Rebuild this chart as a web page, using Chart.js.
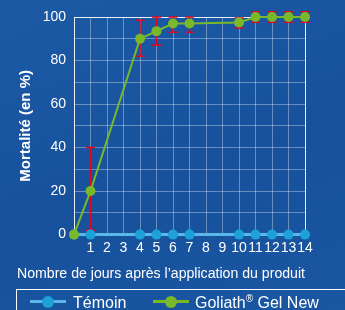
<!DOCTYPE html>
<html>
<head>
<meta charset="utf-8">
<script src="https://cdn.jsdelivr.net/npm/chart.js@4.4.1/dist/chart.umd.min.js"></script>
<style>
  html, body { margin: 0; padding: 0; }
  body { width: 345px; height: 310px; overflow: hidden; position: relative;
         font-family: "Liberation Sans", Arial, sans-serif;
         background: linear-gradient(160deg, #1c5aa6 0%, #17519c 55%, #1a56a2 100%); }
  canvas { position: absolute; left: 0; top: 0; }
  #legende { position: absolute; left: 16px; top: 289px; width: 340px; height: 30px;
             border: 1.5px solid #ffffff; box-sizing: border-box; color: #ffffff; font-size: 16px; }
  .item { position: absolute; top: 4px; line-height: 18px; white-space: nowrap; }
  .icone { position: absolute; top: 10px; width: 36px; height: 3px; }
  .icone i { position: absolute; left: 12px; top: -4.5px; width: 12px; height: 12px; border-radius: 50%; }
  sup { font-size: 10px; vertical-align: 6px; line-height: 0; }
</style>
</head>
<body>
<canvas id="chartMortalite" width="345" height="310"></canvas>
<div id="legende"></div>
<script>
// jours apres application
const jours = [0, 1, 2, 3, 4, 5, 6, 7, 8, 9, 10, 11, 12, 13, 14]
const temoin = [0, 0, null, null, 0, 0, 0, 0, null, null, 0, 0, 0, 0, 0]
const goliath = [0, 20, null, null, 90, 93.5, 97, 97, null, null, 97.5, 100, 100, 100, 100]
// barres d'erreur (min / max)
const goliathMin = [null, 2, null, null, 82, 87, 93, 93, null, null, 95, 97.6, 97.6, 97.6, 97.6]
const goliathMax = [null, 40, null, null, 98.5, 100, 100, 100, null, null, 99.5, 102.4, 102.4, 102.4, 102.4]
const yTicks = [0, 20, 40, 60, 80, 100]

const bleu = '#1ea0d9'
const bleuLigne = '#5ab8e8'
const vert = '#78b82a'
const rouge = '#e3061f'

function toPoints(values) {
    return jours.map(function (j, i) { return { x: j, y: values[i] } })
}

const errorBars = {
    id: 'errorBars',
    beforeDatasetsDraw(chart) {
        let ctx = chart.ctx
        let x = chart.scales.x, y = chart.scales.y
        ctx.save()
        ctx.strokeStyle = rouge
        ctx.lineWidth = 1.5
        jours.forEach(function (j, i) {
            if (goliathMin[i] == null) return
            let px = x.getPixelForValue(j)
            let y1 = y.getPixelForValue(goliathMin[i])
            let y2 = y.getPixelForValue(goliathMax[i])
            ctx.beginPath()
            ctx.moveTo(px, y1); ctx.lineTo(px, y2)
            ctx.moveTo(px - 4.5, y1); ctx.lineTo(px + 4.5, y1)
            ctx.moveTo(px - 4.5, y2); ctx.lineTo(px + 4.5, y2)
            ctx.stroke()
        })
        ctx.restore()
    }
}

Chart.defaults.font.family = '"Liberation Sans", Arial, sans-serif'
Chart.defaults.color = '#ffffff'

let chart = new Chart(document.getElementById('chartMortalite'), {
    type: 'line',
    data: {
        datasets: [{
            label: 'Témoin',
            data: toPoints(temoin),
            borderColor: bleuLigne,
            backgroundColor: bleu,
            pointBackgroundColor: bleu,
            pointBorderColor: bleu,
            pointBorderWidth: 0,
            pointRadius: 5,
            borderWidth: 3,
            spanGaps: true,
            clip: false,
            order: 1
        }, {
            label: 'Goliath® Gel New',
            data: toPoints(goliath),
            borderColor: vert,
            backgroundColor: vert,
            pointBackgroundColor: vert,
            pointBorderColor: vert,
            pointBorderWidth: 0,
            pointRadius: 5,
            borderWidth: 2,
            spanGaps: true,
            clip: false,
            order: 0
        }]
    },
    options: {
        responsive: false,
        animation: false,
        layout: { padding: { left: 17, right: 40, top: 17, bottom: 23 } },
        plugins: {
            tooltip: { enabled: false },
            legend: { display: false },
            title: {
                display: true,
                position: 'bottom',
                weight: 500,
                text: 'Nombre de jours après l’application du produit',
                color: '#ffffff',
                font: { size: 15.5, weight: 'normal' },
                padding: { top: 3, bottom: 4 }
            }
        },
        scales: {
            x: {
                type: 'linear',
                min: 0,
                max: 14,
                ticks: {
                    stepSize: 1,
                    autoSkip: false,
                    maxRotation: 0,
                    padding: 5,
                    font: { size: 14 },
                    callback: function (v) { return v == 0 ? '' : v }
                },
                grid: {
                    color: function (c) { return (c.tick.value == 0 || c.tick.value == 14) ? 'rgba(255,255,255,0.9)' : 'rgba(255,255,255,0.35)' },
                    lineWidth: 1,
                    drawTicks: false
                },
                border: { display: false }
            },
            y: {
                min: 0,
                max: 100,
                afterFit: function (scale) { scale.width = 57 },
                ticks: {
                    stepSize: 10,
                    padding: 8,
                    font: { size: 14 },
                    callback: function (v) { return yTicks.includes(v) ? v : '' }
                },
                grid: {
                    color: function (c) { return c.tick.value == 100 ? 'rgba(255,255,255,0.9)' : 'rgba(255,255,255,0.35)' },
                    drawTicks: false
                },
                border: { display: false },
                title: {
                    display: true,
                    text: 'Mortalité (en %)',
                    font: { size: 15, weight: 'bold' },
                    padding: { top: 0, bottom: 6 }
                }
            }
        }
    },
    plugins: [errorBars]
})

// legende
let append = ''
let posIcone = [13, 136]
let posTexte = [56, 178]
$legende = document.getElementById('legende')
chart.data.datasets.forEach(function (ds, i) {
    let texte = ds.label.replace('®', '<sup>®</sup>')
    append += `
        <span class="icone" style="left:${posIcone[i]}px;background:${ds.borderColor}"><i style="background:${ds.pointBackgroundColor}"></i></span>
        <span class="item" style="left:${posTexte[i]}px">${texte}</span>
    `
})
$legende.innerHTML = append
</script>
</body>
</html>
